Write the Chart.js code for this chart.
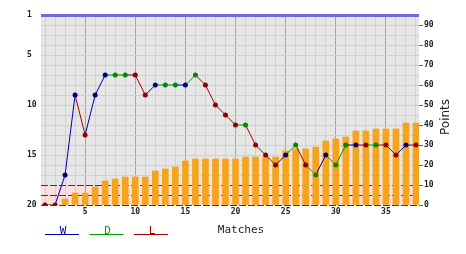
<!DOCTYPE html>
<html>
<head>
<meta charset="utf-8">
<script src="https://cdn.jsdelivr.net/npm/chart.js@4.4.1/dist/chart.umd.min.js"></script>
<style>
  html, body { margin: 0; padding: 0; background: #fff; }
  #wrap { width: 466px; height: 254px; }
</style>
</head>
<body>
<div id="wrap"><canvas id="chart" width="466" height="254"></canvas></div>
<script>
// data
const matches = [1,2,3,4,5,6,7,8,9,10,11,12,13,14,15,16,17,18,19,20,21,22,23,24,25,26,27,28,29,30,31,32,33,34,35,36,37,38];
const positions = [20,20,17,9,13,9,7,7,7,7,9,8,8,8,8,7,8,10,11,12,12,14,15,16,15,14,16,17,15,16,14,14,14,14,14,15,14,14];
const results = ['L','L','W','W','L','W','W','D','D','L','L','W','D','D','W','D','L','L','L','L','D','L','L','L','W','D','L','D','W','D','D','W','L','D','L','L','W','L'];
const points = [0,0,3,6,6,9,12,13,14,14,14,17,18,19,22,23,23,23,23,23,24,24,24,24,27,28,28,29,32,33,34,37,37,38,38,38,41,41];
const positionTicks = [1,5,10,15,20];
const pointTicks = [0,10,20,30,40,50,60,70,80,90];
const relegation = [18,19,20];
const legendLabels = ['W','D','L'];

const lineColors = { W: '#0000a8', D: '#00a000', L: '#a80000' };
const markColors = { W: '#000080', D: '#008800', L: '#8c0000' };

const tickFont = { family: 'DejaVu Sans Mono', size: 8, weight: 'bold' };

const decor = {
  id: 'decor',
  beforeDraw(chart) {
    const { ctx, chartArea: a, scales } = chart;
    ctx.save();
    ctx.fillStyle = '#e6e6e6';
    ctx.fillRect(a.left, a.top, a.right - a.left, a.bottom - a.top);
    // relegation band
    const y0 = scales.y.getPixelForValue(relegation[0]);
    const y1 = scales.y.getPixelForValue(relegation[relegation.length - 1]);
    ctx.fillStyle = '#fbdede';
    ctx.fillRect(a.left, y0, a.right - a.left, y1 - y0);
    ctx.restore();
  },
  beforeDatasetsDraw(chart) {
    const { ctx, chartArea: a, scales } = chart;
    ctx.save();
    ctx.strokeStyle = '#cc0000';
    ctx.lineWidth = 1;
    ctx.setLineDash([7, 2]);
    relegation.forEach(p => {
      const y = Math.round(scales.y.getPixelForValue(p)) + 0.5;
      ctx.beginPath();
      ctx.moveTo(a.left, y);
      ctx.lineTo(a.right, y);
      ctx.stroke();
    });
    ctx.restore();
  },
  afterDraw(chart) {
    const { ctx } = chart;
    ctx.save();
    // legend
    ctx.font = '11px "DejaVu Sans Mono"';
    ctx.textAlign = 'center';
    ctx.textBaseline = 'alphabetic';
    legendLabels.forEach((k, i) => {
      const x = 45 + i * 44.5;
      ctx.strokeStyle = lineColors[k];
      ctx.lineWidth = 1;
      ctx.beginPath();
      ctx.moveTo(x, 234.5);
      ctx.lineTo(x + 34, 234.5);
      ctx.stroke();
      ctx.fillStyle = lineColors[k];
      ctx.fillText(k, x + 18, 234);
    });
    // titles
    ctx.fillStyle = '#222';
    ctx.font = '11px "DejaVu Sans Mono"';
    ctx.textBaseline = 'middle';
    ctx.fillText('Matches', 241, 230);
    ctx.translate(446, 117);
    ctx.rotate(-Math.PI / 2);
    ctx.font = '12px "DejaVu Sans"';
    ctx.fillText('Points', 0, 0);
    ctx.restore();
  }
};

new Chart(document.getElementById('chart'), {
  type: 'line',
  data: {
    datasets: [
      {
        type: 'line',
        data: matches.map((m, i) => ({ x: m, y: positions[i] })),
        xAxisID: 'x',
        yAxisID: 'y',
        borderWidth: 1,
        borderColor: lineColors.L,
        segment: {
          borderColor: c => lineColors[results[c.p1DataIndex]]
        },
        pointRadius: 2.5,
        pointBorderWidth: 0,
        pointBackgroundColor: results.map(r => markColors[r]),
        tension: 0,
        order: 0
      },
      {
        type: 'bar',
        data: matches.map((m, i) => ({ x: m, y: points[i] })),
        xAxisID: 'x',
        yAxisID: 'y2',
        backgroundColor: '#f6a41e',
        borderWidth: 0,
        barThickness: 6,
        order: 1
      }
    ]
  },
  options: {
    responsive: false,
    animation: false,
    layout: { padding: { top: 15, left: 27, right: 0, bottom: 0 } },
    plugins: { legend: { display: false }, tooltip: { enabled: false } },
    scales: {
      x: {
        type: 'linear',
        position: 'bottom',
        offset: false,
        min: 0.6,
        max: 38.3,
        afterBuildTicks: s => { s.ticks = matches.map(v => ({ value: v })); },
        afterFit: s => { s.height = 49; },
        ticks: {
          autoSkip: false,
          maxRotation: 0,
          padding: 2,
          color: '#222',
          font: tickFont,
          callback: v => (v % 5 === 0 ? String(v) : '')
        },
        grid: {
          offset: false,
          drawTicks: false,
          color: c => (c.tick && c.tick.value % 5 === 0 ? '#a4a4a4' : '#d0d0d0'),
          lineWidth: 1
        },
        border: { display: false }
      },
      y: {
        type: 'linear',
        position: 'left',
        reverse: true,
        min: 1,
        max: 20,
        afterBuildTicks: s => {
          const t = [];
          for (let v = 1; v <= 20; v++) t.push({ value: v });
          s.ticks = t;
        },
        afterFit: s => { s.width = 14; },
        ticks: {
          autoSkip: false,
          crossAlign: 'far',
          padding: 4,
          color: '#222',
          font: tickFont,
          callback: v => (positionTicks.includes(v) ? String(v) : '')
        },
        grid: {
          drawTicks: false,
          color: c => {
            const v = c.tick && c.tick.value;
            if (v === 1) return '#6c6cd6';
            if (relegation.includes(v)) return 'rgba(0,0,0,0)';
            return '#d0d0d0';
          },
          lineWidth: c => (c.tick && c.tick.value === 1 ? 3 : 1)
        },
        border: { display: false }
      },
      y2: {
        type: 'linear',
        position: 'right',
        min: 0,
        max: 95,
        afterBuildTicks: s => { s.ticks = pointTicks.map(v => ({ value: v })); },
        afterFit: s => { s.width = 47; },
        ticks: {
          autoSkip: false,
          padding: 1,
          color: '#222',
          font: tickFont
        },
        grid: {
          drawOnChartArea: false,
          drawTicks: true,
          tickLength: 4,
          color: '#666'
        },
        border: { display: false }
      }
    }
  },
  plugins: [decor]
});
</script>
</body>
</html>
